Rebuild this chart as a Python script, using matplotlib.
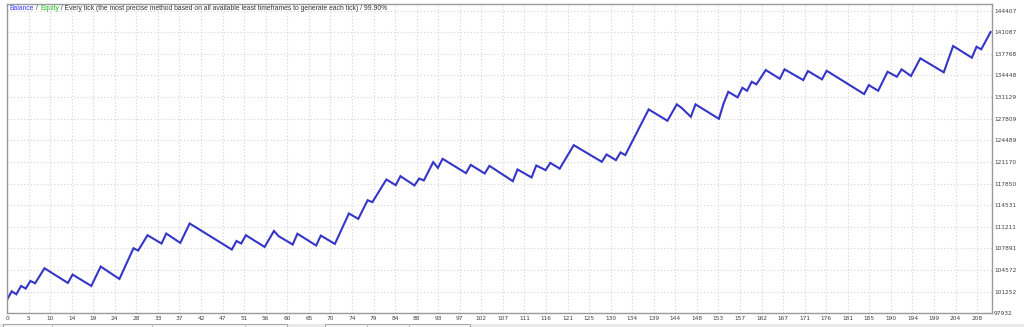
#!/usr/bin/env python
# Balance curve of a strategy tester report (MT4 style)

from matplotlib import pyplot as plt
from matplotlib.patches import Rectangle
import numpy as np

# turning points of the balance line: trade number -> balance
trades = [0, 1, 2, 3, 4, 5, 6, 8, 13, 14, 18, 20, 24, 27, 28, 30, 33, 34, 37, 39,
          48, 49, 50, 51, 55, 57, 58, 61, 62, 66, 67, 70, 73, 75, 77, 78, 81, 83, 84, 87,
          88, 89, 91, 92, 93, 98, 99, 102, 103, 108, 109, 112, 113, 115, 116, 118, 121, 127, 128, 130,
          131, 132, 137, 141, 143, 144, 146, 147, 152, 153, 154, 156, 157, 158, 159, 160, 162, 165, 166, 170,
          171, 174, 175, 183, 184, 186, 188, 190, 191, 193, 195, 200, 202, 206, 207, 208, 210]
balance = [100000, 101310, 100850, 102130, 101730, 102900, 102540, 104850, 102590, 103880,
           102130, 105110, 103200, 107920, 107570, 109920, 108640, 110180, 108740, 111720,
           107720, 109040, 108640, 109920, 108120, 110580, 109770, 108490, 110150, 108340,
           109870, 108580, 113260, 112430, 115300, 114990, 118480, 117600, 118990, 117560,
           118630, 118330, 121140, 120260, 121650, 119450, 120720, 119400, 120570, 118220,
           120020, 118790, 120630, 119910, 121030, 120140, 123750, 121190, 122320, 121450,
           122630, 122220, 129240, 127490, 130010, 129490, 128100, 130010, 127790, 130160,
           131940, 131080, 132560, 132100, 133480, 133080, 135280, 133940, 135390, 133740,
           135130, 133850, 135170, 131590, 132970, 132100, 135020, 134250, 135390, 134360,
           137080, 134930, 138970, 137170, 138860, 138460, 141120]

x_labels = ["0", "5", "10", "14", "19", "24", "28", "33", "37", "42", "47", "51", "56", "60",
            "65", "70", "74", "79", "84", "88", "93", "97", "102", "107", "111", "116", "121",
            "125", "130", "134", "139", "144", "148", "153", "157", "162", "167", "171", "176",
            "181", "185", "190", "194", "199", "204", "208"]
y_ticks = [97932, 101252, 104572, 107891, 111211, 114531, 117850, 121170, 124489,
           127809, 131129, 134448, 137768, 141087, 144407]

header = [("Balance", "#3a3aff"), (" / ", "#333333"), ("Equity", "#22bb22"),
          (" / Every tick (the most precise method based on all available least "
           "timeframes to generate each tick) / 99.90%", "#333333")]

W, H = 1024, 327
fig = plt.figure(figsize=(W / 100, H / 100), dpi=100)
fig.patch.set_facecolor("white")

# plot area in pixels: x 7..992, y 4..313
ax = fig.add_axes([7 / W, (H - 313.3) / H, 985 / W, 309.3 / H])
ax.plot(trades, balance, color="#3535c8", linewidth=1.5, solid_joinstyle="miter")

ax.set_xlim(0, 210.3)
ax.set_ylim(97932, 145420)

step = 4.603
ax.set_xticks(np.arange(len(x_labels)) * step)
ax.set_xticklabels(x_labels)
ax.set_yticks(y_ticks)
ax.set_yticklabels([str(v) for v in y_ticks])
ax.yaxis.tick_right()

ax.tick_params(axis="both", length=0, colors="#404040", labelsize=4.2, pad=2)
ax.tick_params(axis="y", pad=1.5)
ax.grid(True, axis="both", color="#d4d4d4", linestyle=(0, (1, 2)), linewidth=0.8)
ax.set_axisbelow(True)
for s in ax.spines.values():
    s.set_color("#9a9a9a")
    s.set_linewidth(1)

# header line with coloured words, placed one after another
renderer = fig.canvas.get_renderer()
xpos = 10
for txt, col in header:
    t = fig.text(xpos / W, 1 - 9.5 / H, txt, color=col, fontsize=4.85,
                 family="Liberation Sans", va="baseline", ha="left")
    xpos += t.get_window_extent(renderer).width

# tab strip at the bottom of the window
fig.patches.append(Rectangle((0, 0), 1, 3 / H, transform=fig.transFigure,
                             facecolor="#e8e8e8", edgecolor="none"))
for x0, x1 in [(3, 287), (325, 470)]:
    fig.patches.append(Rectangle((x0 / W, -0.01), (x1 - x0) / W, 3.2 / H + 0.01,
                                 transform=fig.transFigure, facecolor="#f6f6f6",
                                 edgecolor="#a8a8a8", linewidth=0.8))
for xs in [52, 152, 245, 367, 409]:
    fig.add_artist(plt.Line2D([xs / W, xs / W], [0, 3 / H], transform=fig.transFigure,
                              color="#c0c0c0", linewidth=0.8))

plt.savefig("out.png", dpi=100)
